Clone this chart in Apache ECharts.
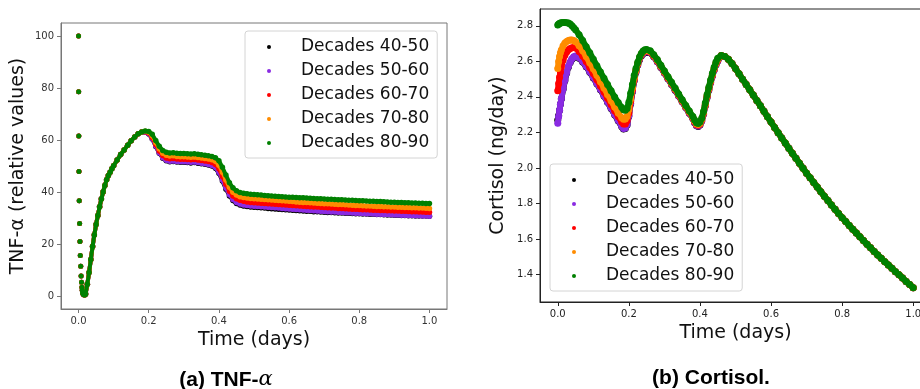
<!DOCTYPE html>
<html>
<head>
<meta charset="utf-8">
<script src="https://cdn.jsdelivr.net/npm/echarts@6/dist/echarts.min.js"></script>
<style>html,body{margin:0;padding:0;background:#fff}#c{width:920px;height:389px}</style>
</head>
<body>
<div id="c"></div>
<script>
// ---------- data ----------
const seriesNames = ['Decades 40-50', 'Decades 50-60', 'Decades 60-70', 'Decades 70-80', 'Decades 80-90'];
const seriesColors = ['#000000', '#8a2be2', '#ff0000', '#ff8c00', '#008000'];
const xTicks = [0, 0.2, 0.4, 0.6, 0.8, 1.0];
const tnfTicks = [0, 20, 40, 60, 80, 100];
const cortTicks = [1.4, 1.6, 1.8, 2.0, 2.2, 2.4, 2.6, 2.8];

// TNF-alpha: shared early part (first 13 points are the isolated initial-decay dots)
const tnfTimeHead = [0,0.0003,0.0007,0.0012,0.002,0.003,0.004,0.005,0.0062,0.0073,0.0085,0.0095,0.0105,0.012,0.014,0.016,0.018,
  0.02,0.025,0.03,0.035,0.04,0.045,0.05,0.055,0.06,0.065,0.07,0.075,0.08,0.085,0.09,0.095,0.1,
  0.11,0.12,0.13,0.14,0.15,0.16,0.17,0.18];
const tnfHead = [100,78.6,61.5,47.9,36.6,27.9,21,15.6,11.4,7.7,5.3,3.4,2.2,1.2,0.7,0.5,0.5,
  0.8,4.5,9,14,19,23.5,27.5,31,34.3,37.3,40,42.5,44.7,46.3,47.6,48.9,50.1,
  52.3,54.4,56.2,58.0,59.7,61.2,62.4,63.1];
const tnfDecayCount = 13;
const tnfTimeTail = [0.19,0.2,0.21,0.22,0.23,0.24,0.25,0.26,0.27,0.28,0.29,0.3,0.31,0.32,0.33,0.34,0.35,0.36,0.37,0.38,0.39,0.4,
  0.41,0.42,0.43,0.44,0.45,0.46,0.47,0.48,0.49,0.5,0.51,0.52,0.53,0.54,0.55,0.56,0.57,0.58,0.59,0.6,
  0.61,0.62,0.63,0.64,0.65,0.66,0.67,0.68,0.69,0.7,0.71,0.72,0.73,0.74,0.75,0.76,0.77,0.78,0.79,0.8,
  0.81,0.82,0.83,0.84,0.85,0.86,0.87,0.88,0.89,0.9,0.91,0.92,0.93,0.94,0.95,0.96,0.97,0.98,0.99,1.0];
const tnf4050Tail = [63.0,62.3,60.4,57.5,54.9,53.0,52.0,51.6,51.7,51.5,51.4,51.4,51.3,51.2,51.3,51.1,50.9,50.7,50.4,50.0,49.1,47.2,
  44.2,41.1,38.5,36.7,35.6,35.0,34.6,34.4,34.2,34.1,
  34.0,33.9,33.8,33.7,33.6,33.5,33.4,33.3,33.2,33.1,33.0,32.9,32.8,32.7,32.6,32.55,32.45,32.4,32.3,32.2,
  32.15,32.1,32.05,31.95,31.9,31.85,31.8,31.7,31.65,31.6,31.55,31.5,31.45,31.4,31.35,31.3,31.25,31.2,31.15,31.1,
  31.05,31.0,30.95,30.9,30.85,30.8,30.8,30.75,30.75,30.7];
const tnf5060Tail = [63.0,62.4,60.5,57.7,55.1,53.2,52.2,51.8,51.9,51.7,51.6,51.6,51.5,51.4,51.5,51.3,51.1,50.9,50.6,50.2,49.4,47.6,
  44.6,41.5,38.9,37.1,36.0,35.4,35.0,34.8,34.6,34.5,
  34.4,34.3,34.2,34.1,34.0,33.9,33.8,33.7,33.6,33.5,33.4,33.3,33.2,33.1,33.0,32.9,32.8,32.7,32.6,32.5,
  32.45,32.35,32.3,32.2,32.15,32.05,32.0,31.9,31.85,31.8,31.7,31.65,31.6,31.5,31.45,31.4,31.35,31.3,31.25,31.2,
  31.15,31.1,31.05,31.0,30.95,30.9,30.85,30.8,30.75,30.7];
const tnf6070Tail = [63.2,62.7,61.0,58.3,55.8,54.0,53.1,52.8,52.9,52.7,52.6,52.6,52.5,52.4,52.5,52.3,52.1,51.9,51.7,51.3,50.6,48.9,
  46.0,43.0,40.3,38.5,37.4,36.8,36.4,36.2,36.0,35.9,
  35.8,35.7,35.6,35.5,35.4,35.3,35.2,35.1,35.0,34.9,34.8,34.7,34.6,34.5,34.45,34.35,34.25,34.2,34.1,34.0,
  33.95,33.85,33.8,33.7,33.65,33.55,33.5,33.4,33.35,33.3,33.2,33.15,33.1,33.0,32.95,32.9,32.85,32.8,32.75,32.7,
  32.65,32.6,32.55,32.5,32.45,32.4,32.35,32.3,32.25,32.2];
const tnf7080Tail = [63.4,63.0,61.6,59.0,56.6,54.9,54.1,53.8,53.9,53.7,53.6,53.6,53.5,53.4,53.5,53.3,53.1,52.9,52.7,52.4,51.8,50.3,
  47.6,44.6,41.8,39.9,38.8,38.2,37.9,37.7,37.5,37.4,
  37.3,37.2,37.1,37.0,36.9,36.8,36.7,36.6,36.5,36.4,36.3,36.2,36.1,36.0,35.95,35.85,35.75,35.7,35.6,35.5,
  35.45,35.35,35.3,35.2,35.15,35.05,35.0,34.9,34.85,34.8,34.7,34.65,34.6,34.5,34.45,34.4,34.35,34.3,34.25,34.2,
  34.15,34.1,34.05,34.0,33.95,33.9,33.85,33.8,33.75,33.7];
const tnf8090Tail = [63.5,63.3,62.2,59.8,57.6,56.0,55.3,55.0,55.1,54.9,54.8,54.8,54.7,54.6,54.7,54.5,54.3,54.1,53.9,53.7,53.2,52.0,
  49.5,46.5,43.6,41.6,40.5,39.8,39.5,39.3,39.1,39.0,
  38.9,38.8,38.7,38.6,38.5,38.4,38.3,38.2,38.1,38.0,37.95,37.9,37.8,37.75,37.7,37.6,37.5,37.45,37.4,37.3,
  37.25,37.2,37.1,37.05,37.0,36.9,36.85,36.8,36.7,36.65,36.6,36.5,36.45,36.4,36.35,36.3,36.25,36.2,36.1,36.05,
  36.0,35.95,35.9,35.85,35.8,35.75,35.7,35.65,35.6,35.55];

// Cortisol
const cortTimeHead = [0,0.0025,0.005,0.0075,0.01,0.015,0.02,0.025,0.03,0.035,0.04,0.045,0.05,
  0.06,0.07,0.08,0.09,0.1,0.11,0.12,0.13,0.14,0.15,0.16,0.17,0.18,
  0.185,0.19,0.195,0.2,0.205,0.21,0.215,0.22,0.225,0.23,0.235,0.24,0.245,0.25,
  0.26,0.27,0.28,0.29,0.3,0.31,0.32,0.33,0.34,0.35,0.36,0.37,0.38,
  0.385,0.39,0.395,0.4,0.405,0.41,0.415,0.42,0.425,0.43,0.435,0.44,0.445,0.45];
const cort4050Head = [2.27,2.295,2.325,2.358,2.388,2.443,2.492,2.535,2.569,2.594,2.612,2.623,2.627,
  2.617,2.597,2.57,2.539,2.507,2.474,2.44,2.405,2.37,2.335,2.299,2.265,2.232,
  2.219,2.222,2.242,2.292,2.362,2.429,2.491,2.54,2.579,2.609,2.63,2.643,2.65,2.652,
  2.648,2.626,2.598,2.566,2.534,2.502,2.47,2.438,2.405,2.372,2.34,2.308,2.278,
  2.254,2.239,2.234,2.242,2.264,2.302,2.349,2.396,2.439,2.479,2.517,2.551,2.581,2.602];
const cort5060Head = [2.252,2.29,2.325,2.36,2.39,2.445,2.495,2.538,2.572,2.597,2.615,2.626,2.63,
  2.62,2.6,2.573,2.542,2.51,2.477,2.443,2.408,2.373,2.338,2.302,2.268,2.235,
  2.222,2.225,2.245,2.295,2.365,2.432,2.494,2.543,2.582,2.612,2.633,2.646,2.653,2.655,
  2.65,2.628,2.6,2.568,2.536,2.504,2.472,2.44,2.407,2.374,2.342,2.31,2.28,
  2.256,2.241,2.236,2.244,2.266,2.304,2.351,2.398,2.441,2.481,2.519,2.553,2.583,2.604];
const cort6070Head = [2.435,2.475,2.51,2.54,2.568,2.608,2.635,2.653,2.665,2.673,2.677,2.678,2.675,
  2.656,2.63,2.599,2.566,2.532,2.497,2.462,2.427,2.392,2.357,2.322,2.29,2.258,
  2.247,2.248,2.265,2.31,2.375,2.44,2.5,2.548,2.587,2.617,2.638,2.651,2.658,2.66,
  2.653,2.631,2.603,2.571,2.539,2.507,2.475,2.443,2.41,2.377,2.345,2.313,2.283,
  2.26,2.245,2.24,2.248,2.27,2.308,2.355,2.402,2.445,2.485,2.523,2.557,2.587,2.608];
const cort7080Head = [2.56,2.6,2.628,2.648,2.664,2.688,2.703,2.712,2.718,2.721,2.721,2.718,2.71,
  2.688,2.66,2.627,2.593,2.558,2.522,2.486,2.45,2.414,2.378,2.343,2.31,2.283,
  2.274,2.275,2.29,2.33,2.39,2.45,2.505,2.55,2.59,2.62,2.641,2.654,2.661,2.663,
  2.656,2.634,2.606,2.574,2.542,2.51,2.478,2.446,2.413,2.38,2.348,2.316,2.286,
  2.264,2.249,2.244,2.252,2.274,2.312,2.359,2.406,2.449,2.489,2.527,2.561,2.591,2.612];
const cort8090Head = [2.805,2.81,2.814,2.816,2.818,2.819,2.819,2.818,2.816,2.81,2.8,2.79,2.778,
  2.75,2.718,2.683,2.648,2.612,2.576,2.54,2.505,2.47,2.435,2.4,2.368,2.34,
  2.328,2.325,2.335,2.37,2.42,2.47,2.52,2.56,2.595,2.625,2.645,2.658,2.665,2.667,
  2.66,2.638,2.61,2.578,2.546,2.514,2.482,2.45,2.417,2.384,2.352,2.32,2.29,
  2.27,2.255,2.25,2.258,2.28,2.318,2.365,2.412,2.455,2.495,2.533,2.567,2.597,2.618];
const cortTimeTail = [0.46,0.47,0.48,0.49,0.5,0.51,0.52,0.53,0.54,0.55,0.56,0.57,0.58,0.59,0.6,
  0.61,0.62,0.63,0.64,0.65,0.66,0.67,0.68,0.69,0.7,0.71,0.72,0.73,0.74,0.75,0.76,0.77,0.78,0.79,0.8,
  0.81,0.82,0.83,0.84,0.85,0.86,0.87,0.88,0.89,0.9,0.91,0.92,0.93,0.94,0.95,0.96,0.97,0.98,0.99,1.0];
const cortTail = [2.633,2.628,2.612,2.588,2.56,2.53,2.5,2.47,2.44,2.41,2.38,2.35,2.319,2.288,2.258,
  2.228,2.198,2.169,2.14,2.111,2.082,2.054,2.026,1.998,1.97,1.944,1.918,1.892,1.866,1.841,1.816,1.791,1.767,1.743,1.72,
  1.698,1.676,1.654,1.633,1.612,1.591,1.57,1.55,1.53,1.51,1.491,1.472,1.453,1.435,1.416,1.398,1.38,1.361,1.343,1.325];

// ---------- build ----------
function pairs(ts, vs) { return ts.map((t, i) => [t, vs[i]]); }
const tnfTails = [tnf4050Tail, tnf5060Tail, tnf6070Tail, tnf7080Tail, tnf8090Tail];
const cortHeads = [cort4050Head, cort5060Head, cort6070Head, cort7080Head, cort8090Head];

const FONT = 'DejaVu Sans';
const series = [];
// dense model output drawn as beads (symbols) joined by a line of about the same width
function beadSeries(name, color, xi, data, size, width, z) {
  return {
    name, type: 'line', xAxisIndex: xi, yAxisIndex: xi, data,
    symbol: 'circle', symbolSize: size, showSymbol: true, showAllSymbol: true,
    lineStyle: { color, width, cap: 'round', join: 'round', opacity: 1 },
    itemStyle: { color, borderWidth: 0, opacity: 1 }, silent: true, z, emphasis: { disabled: true }
  };
}
seriesNames.forEach((name, i) => {
  const all = pairs(tnfTimeHead, tnfHead).concat(pairs(tnfTimeTail, tnfTails[i]));
  series.push({
    name, type: 'scatter', xAxisIndex: 0, yAxisIndex: 0, symbol: 'circle', symbolSize: 5,
    itemStyle: { color: seriesColors[i], opacity: 1 }, silent: true, z: 2 + i,
    data: all.slice(0, tnfDecayCount)
  });
  series.push(beadSeries(name, seriesColors[i], 0, all.slice(tnfDecayCount), 5.5, 4, 2 + i));
});
seriesNames.forEach((name, i) => {
  const all = pairs(cortTimeHead, cortHeads[i]).concat(pairs(cortTimeTail, cortTail));
  series.push(beadSeries(name, seriesColors[i], 1, all, 7, 6, 2 + i));
});

function xAxisCfg(idx, frameColor, labelColor) {
  return {
    type: 'value', gridIndex: idx, min: -0.05, max: 1.05,
    name: 'Time (days)', nameLocation: 'middle', nameGap: 20,
    nameTextStyle: { fontFamily: FONT, fontSize: 19, color: '#111' },
    axisLine: { show: true, onZero: false, lineStyle: { color: frameColor, width: 1 } },
    axisTick: { show: true, inside: false, length: 4, customValues: xTicks, lineStyle: { color: frameColor } },
    axisLabel: { customValues: xTicks, margin: 7, fontFamily: FONT, fontSize: 10, color: labelColor,
      formatter: v => v.toFixed(1) },
    splitLine: { show: false }
  };
}
function yAxisCfg(idx, min, max, ticks, name, gap, frameColor, labelColor, fmt) {
  return {
    type: 'value', gridIndex: idx, min, max,
    name, nameLocation: 'middle', nameGap: gap,
    nameTextStyle: { fontFamily: FONT, fontSize: 19, color: '#111' },
    axisLine: { show: true, onZero: false, lineStyle: { color: frameColor, width: 1 } },
    axisTick: { show: true, inside: false, length: 4, customValues: ticks, lineStyle: { color: frameColor } },
    axisLabel: { customValues: ticks, margin: 7, fontFamily: FONT, fontSize: 10, color: labelColor, formatter: fmt },
    splitLine: { show: false }
  };
}
function legendCfg(left, top) {
  return {
    data: seriesNames, orient: 'vertical', left, top, padding: [6, 8, 5, 22],
    itemWidth: 4, itemHeight: 4, itemGap: 4, icon: 'circle', align: 'left',
    itemStyle: { opacity: 1 },
    formatter: n => '{s| }' + n,
    textStyle: { fontFamily: FONT, fontSize: 17, color: '#111', lineHeight: 20,
      rich: { s: { width: 25, fontSize: 17, lineHeight: 20 } } },
    backgroundColor: 'rgba(255,255,255,0.8)', borderColor: '#d4d4d4', borderWidth: 1, borderRadius: 3,
    selectedMode: false
  };
}

const option = {
  animation: false,
  backgroundColor: '#fff',
  grid: [
    { left: 61, top: 23, width: 386, height: 286, show: true, borderColor: '#777', borderWidth: 1,
      backgroundColor: 'transparent', outerBoundsMode: 'none', containLabel: false },
    { left: 540, top: 9, width: 391, height: 293, show: true, borderColor: '#222', borderWidth: 1,
      backgroundColor: 'transparent', outerBoundsMode: 'none', containLabel: false }
  ],
  xAxis: [xAxisCfg(0, '#777', '#333'), xAxisCfg(1, '#222', '#222')],
  yAxis: [
    yAxisCfg(0, -5, 105, tnfTicks, 'TNF-α (relative values)', 33, '#777', '#333', v => String(v)),
    yAxisCfg(1, 1.245, 2.895, cortTicks, 'Cortisol (ng/day)', 32, '#222', '#222', v => v.toFixed(1))
  ],
  legend: [legendCfg(245, 31), legendCfg(550, 164)],
  series,
  graphic: [
    { type: 'text', x: 226, y: 380, style: {
      text: '{b|(a) TNF-}{i|α}', textAlign: 'center', textVerticalAlign: 'middle',
      rich: { b: { fontFamily: 'Liberation Sans', fontWeight: 'bold', fontSize: 21, fill: '#000' },
              i: { fontFamily: 'DejaVu Serif', fontStyle: 'italic', fontSize: 21, fill: '#000' } } } },
    { type: 'text', x: 711, y: 378, style: {
      text: '(b) Cortisol.', textAlign: 'center', textVerticalAlign: 'middle',
      fontFamily: 'Liberation Sans', fontWeight: 'bold', fontSize: 21, fill: '#000' } }
  ]
};
const chart = echarts.init(document.getElementById('c'), null, { renderer: 'canvas' });
chart.setOption(option);
</script>
</body>
</html>
